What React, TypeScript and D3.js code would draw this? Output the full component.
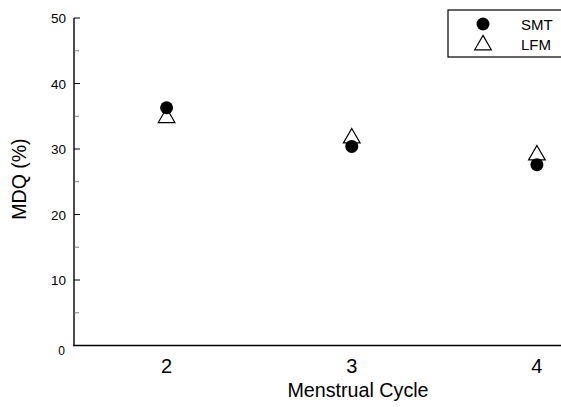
import React from "react";
import * as d3 from "d3";

const cycles = [2, 3, 4];
const smt = [36.3, 30.4, 27.6];
const lfm = [35.0, 31.9, 29.3];
const yTicks = [0, 10, 20, 30, 40, 50];
const yMinor = [5, 15, 25, 35, 45];
const seriesNames = ["SMT", "LFM"];

const W = 561;
const H = 407;
const font = "'Liberation Sans', Arial, Helvetica, sans-serif";

export default function App() {
  const x = d3.scaleLinear().domain([1.5, 4.13]).range([74, 561]);
  const y = d3.scaleLinear().domain([0, 50]).range([345.5, 18]);
  const tri = d3.symbol().type(d3.symbolTriangle).size(120);
  const triPath = tri() as string;

  return (
    <svg
      width={W}
      height={H}
      style={{ position: "absolute", left: 0, top: 0, background: "#fff" }}
      fontFamily={font}
    >
      <rect width={W} height={H} fill="#fff" />
      {/* y axis */}
      <line x1={74} x2={74} y1={y(50)} y2={y(0)} stroke="#000" strokeWidth={1.4} />
      {yTicks.map((t) => (
        <g key={t}>
          <line x1={74} x2={80} y1={y(t)} y2={y(t)} stroke="#000" strokeWidth={1} />
          <text
            x={t === 0 ? 65 : 66}
            y={t === 0 ? y(t) + 9 : y(t) + 5}
            textAnchor="end"
            fontSize={t === 0 ? 12 : 13.5}
            fill="#000"
          >
            {t}
          </text>
        </g>
      ))}
      {yMinor.map((t) => (
        <line key={t} x1={74} x2={79} y1={y(t)} y2={y(t)} stroke="#666" strokeWidth={0.8} />
      ))}
      {/* x axis */}
      <line x1={73} x2={561} y1={y(0)} y2={y(0)} stroke="#000" strokeWidth={1.6} />
      {cycles.map((c) => (
        <text key={c} x={x(c)} y={373} textAnchor="middle" fontSize={20} fill="#000">
          {c}
        </text>
      ))}
      <text x={358} y={397} textAnchor="middle" fontSize={19.7} fill="#000">
        Menstrual Cycle
      </text>
      <text
        transform={`translate(26,179) rotate(-90)`}
        textAnchor="middle"
        fontSize={19.5}
        fill="#000"
      >
        MDQ (%)
      </text>
      {/* points */}
      {cycles.map((c, i) => (
        <path
          key={"l" + c}
          d={triPath}
          transform={`translate(${x(c)},${y(lfm[i]) + 1.5})`}
          fill="#fff"
          stroke="#000"
          strokeWidth={1.2}
        />
      ))}
      {cycles.map((c, i) => (
        <circle key={"s" + c} cx={x(c)} cy={y(smt[i])} r={6.5} fill="#000" />
      ))}
      {/* legend */}
      <rect x={448} y={10} width={120} height={47} fill="#fff" stroke="#000" strokeWidth={1.2} />
      <circle cx={483} cy={24} r={6.5} fill="#000" />
      <path d={triPath} transform={`translate(483,45)`} fill="#fff" stroke="#000" strokeWidth={1.2} />
      <text x={521} y={29.5} fontSize={15} fill="#000">
        {seriesNames[0]}
      </text>
      <text x={521} y={49.5} fontSize={15} fill="#000">
        {seriesNames[1]}
      </text>
    </svg>
  );
}
